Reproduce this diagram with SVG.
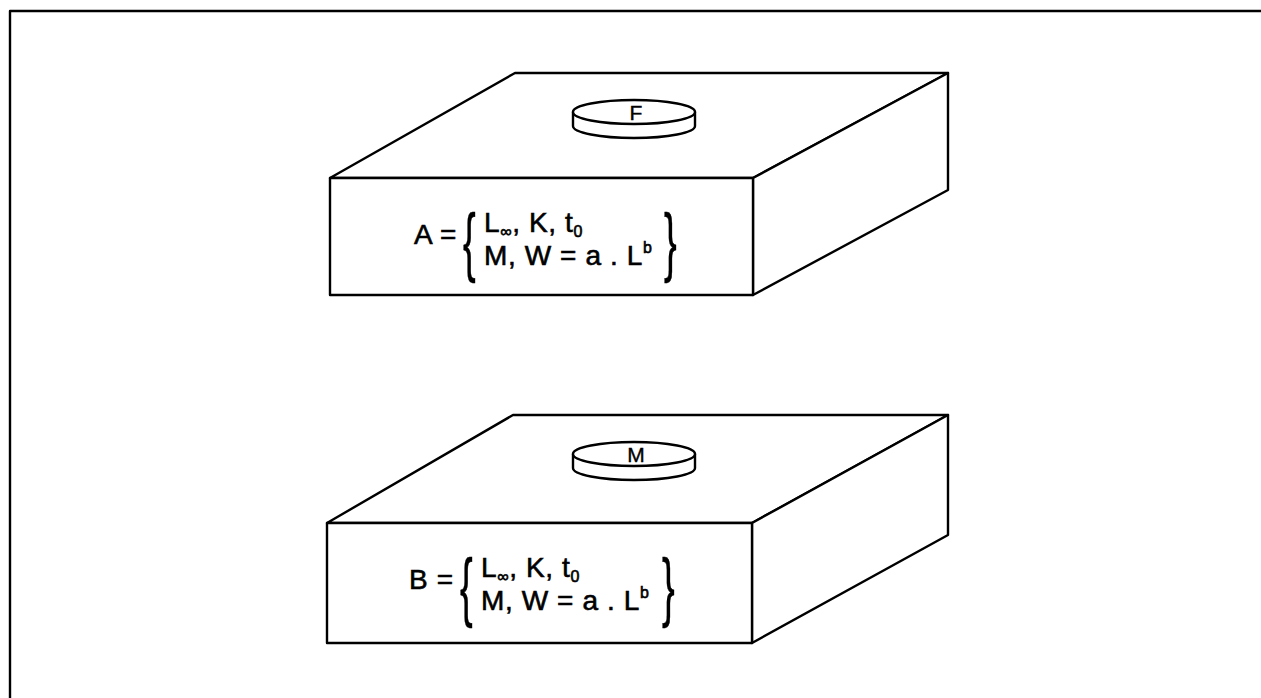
<svg xmlns="http://www.w3.org/2000/svg" width="1261" height="698" viewBox="0 0 1261 698">
<style>
.ln{fill:none;stroke:#000;stroke-width:2.4;stroke-linejoin:round;stroke-linecap:round}
.face{fill:#fff;stroke:#000;stroke-width:2.4;stroke-linejoin:round}
.t{font-family:"Liberation Sans",Arial,sans-serif;font-size:28px;letter-spacing:0.6px;fill:#000;stroke:#000;stroke-width:0.6}
.s{font-size:16px}
.br{font-family:"Liberation Sans",Arial,sans-serif;font-size:76px;fill:#000;stroke:#000;stroke-width:0.6}
.d{font-family:"Liberation Sans",Arial,sans-serif;font-size:21px;fill:#000;stroke:#000;stroke-width:0.4;text-anchor:middle}
</style>
<rect width="1261" height="698" fill="#fff"/>
<path class="ln" d="M10,700 L10,11 L1265,11"/>

<g id="boxA">
<polygon class="face" points="330,178 515,73 948,73 753,178"/>
<polygon class="face" points="753,178 948,73 948,190 753,295"/>
<rect class="face" x="330" y="178" width="423" height="117"/>
<g id="discF">
<path class="face" d="M573,112 L573,126 A61,12 0 0 0 695,126 L695,112 Z"/>
<ellipse class="face" cx="634" cy="112" rx="61" ry="12"/>
<text class="d" x="636" y="120">F</text>
</g>
<text class="t" x="414" y="244">A =</text>
<text class="br" transform="translate(463,267) scale(0.5,1)">{</text>
<text class="t" x="484" y="232">L<tspan class="s" dy="5">∞</tspan><tspan dy="-5">, K, t</tspan><tspan class="s" dy="5">0</tspan></text>
<text class="t" x="484" y="265">M, W = a . L<tspan class="s" dy="-12">b</tspan></text>
<text class="br" transform="translate(664,267) scale(0.5,1)">}</text>
</g>

<g id="boxB">
<polygon class="face" points="327,523 513,415 948,415 752,523"/>
<polygon class="face" points="752,523 948,415 948,535 752,643"/>
<rect class="face" x="327" y="523" width="425" height="120"/>
<g id="discM">
<path class="face" d="M573,454 L573,468 A61,12 0 0 0 695,468 L695,454 Z"/>
<ellipse class="face" cx="634" cy="454" rx="61" ry="12"/>
<text class="d" x="636" y="462">M</text>
</g>
<text class="t" x="409" y="589">B =</text>
<text class="br" transform="translate(460,612) scale(0.5,1)">{</text>
<text class="t" x="481" y="577">L<tspan class="s" dy="5">∞</tspan><tspan dy="-5">, K, t</tspan><tspan class="s" dy="5">0</tspan></text>
<text class="t" x="481" y="610">M, W = a . L<tspan class="s" dy="-12">b</tspan></text>
<text class="br" transform="translate(662,612) scale(0.5,1)">}</text>
</g>
</svg>
